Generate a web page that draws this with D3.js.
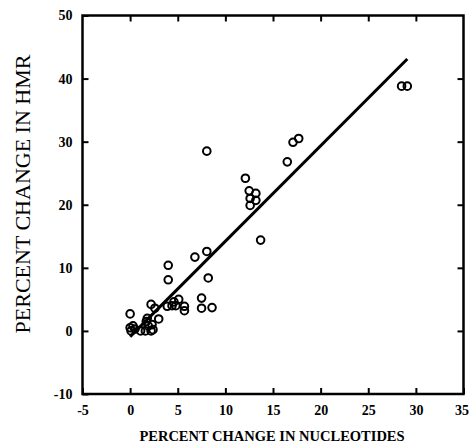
<!DOCTYPE html>
<html>
<head>
<meta charset="utf-8">
<script src="https://cdn.jsdelivr.net/npm/d3@7"></script>
<style>
  body { margin: 0; background: #fff; }
  text { font-family: "Liberation Serif", "DejaVu Serif", serif; fill: #000; }
</style>
</head>
<body>
<div id="container"></div>
<script>
// percent change in nucleotides (x) and in HMR (y)
var nucleotides = [0, 0, 0.3, 0.1, 0.5, 1.1, 1.6, 1.7, 1.8, 1.9, 2.2, 2.3, 2.4, 2.2, 2.6, 3.0,
    4.0, 4.0, 3.9, 4.4, 4.6, 4.8, 5.1, 5.7, 5.7, 6.8, 8.05, 8.05, 8.2, 7.5, 7.5, 8.6,
    12.1, 12.5, 12.6, 12.6, 13.2, 13.2, 13.7, 16.5, 17.1, 17.7, 28.5, 29.1];
var hmr = [2.7, 0.5, 0.8, 0, 0.3, 0, 0, 1.5, 2.0, 0.8, 0, 1.0, 0.2, 4.2, 3.6, 1.9,
    10.4, 8.1, 3.9, 4.0, 4.6, 4.0, 5.0, 3.9, 3.2, 11.7, 28.5, 12.6, 8.4, 5.2, 3.6, 3.7,
    24.2, 22.2, 21.0, 19.9, 21.8, 20.7, 14.4, 26.8, 29.9, 30.5, 38.8, 38.8];

// regression line end points
var fitX = [0, 29.1];
var fitY = [-0.9, 43.1];

var xTicks = [-5, 0, 5, 10, 15, 20, 25, 30, 35];
var yTicks = [-10, 0, 10, 20, 30, 40, 50];

var svg = d3.select('#container').append('svg')
    .attr('width', 469)
    .attr('height', 444);

var plotLeft = 82.5, plotRight = 463.5, plotTop = 15.5, plotBottom = 394;

var x = d3.scaleLinear().domain([-5, 35]).range([plotLeft, plotRight]);
var y = d3.scaleLinear().domain([-10, 50]).range([plotBottom, plotTop]);

function plain(d) { return String(d); }

// inward ticks on all four sides
function tickStyle(g) {
    g.select('.domain').remove();
    g.selectAll('.tick line').attr('stroke', '#000').attr('stroke-width', 2);
}

var xAxisG = svg.append('g')
    .attr('transform', 'translate(0,' + plotBottom + ')')
    .call(d3.axisBottom(x).tickValues(xTicks).tickSize(-6).tickPadding(11).tickFormat(plain))
    .call(tickStyle);
xAxisG.selectAll('text')
    .style('font-size', '14px').style('font-weight', 'bold');
// last label sits on the page edge; keep it inside
xAxisG.selectAll('.tick').filter(function(d) { return d === 35; }).select('text')
    .attr('text-anchor', 'end').attr('x', 5);

svg.append('g')
    .attr('transform', 'translate(0,' + plotTop + ')')
    .call(d3.axisTop(x).tickValues(xTicks.slice(1, -1)).tickSize(-6).tickFormat(''))
    .call(tickStyle);

svg.append('g')
    .attr('transform', 'translate(' + plotLeft + ',0)')
    .call(d3.axisLeft(y).tickValues(yTicks).tickSize(-6).tickPadding(10).tickFormat(plain))
    .call(tickStyle)
    .selectAll('text')
    .style('font-size', '14px').style('font-weight', 'bold');

svg.append('g')
    .attr('transform', 'translate(' + plotRight + ',0)')
    .call(d3.axisRight(y).tickValues(yTicks.slice(1, -1)).tickSize(-6).tickFormat(''))
    .call(tickStyle);

// frame
svg.append('rect')
    .attr('x', plotLeft)
    .attr('y', plotTop)
    .attr('width', plotRight - plotLeft)
    .attr('height', plotBottom - plotTop)
    .attr('fill', 'none')
    .attr('stroke', '#000')
    .attr('stroke-width', 2.5);

// fitted line
svg.append('line')
    .attr('x1', x(fitX[0])).attr('y1', y(fitY[0]))
    .attr('x2', x(fitX[1])).attr('y2', y(fitY[1]))
    .attr('stroke', '#000')
    .attr('stroke-width', 3);

// points
svg.selectAll('circle.pt')
    .data(d3.range(nucleotides.length))
    .enter().append('circle')
    .attr('class', 'pt')
    .attr('cx', function(i) { return x(nucleotides[i]); })
    .attr('cy', function(i) { return y(hmr[i]); })
    .attr('r', 3.8)
    .attr('fill', 'none')
    .attr('stroke', '#000')
    .attr('stroke-width', 2);

svg.append('text')
    .attr('x', 272)
    .attr('y', 441)
    .attr('text-anchor', 'middle')
    .style('font-size', '14.5px')
    .style('font-weight', 'bold')
    .text('PERCENT CHANGE IN NUCLEOTIDES');

svg.append('text')
    .attr('transform', 'translate(30,194) rotate(-90)')
    .attr('text-anchor', 'middle')
    .style('font-size', '22px')
    .text('PERCENT CHANGE IN HMR');
</script>
</body>
</html>
